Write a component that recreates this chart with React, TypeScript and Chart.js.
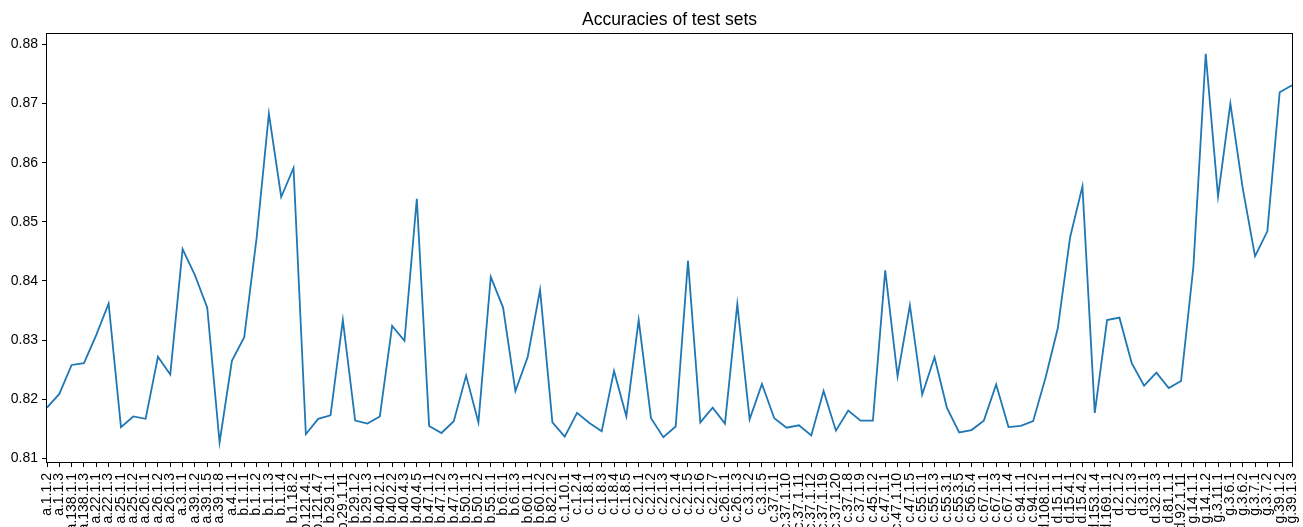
import React, { useEffect, useRef } from "react";
import { Chart, registerables } from "chart.js";

Chart.register(...registerables);

const testSets = [
  "a.1.1.2", "a.1.1.3", "a.138.1.1", "a.138.1.3", "a.22.1.1", "a.22.1.3", "a.25.1.1", "a.25.1.2",
  "a.26.1.1", "a.26.1.2", "a.26.1.3", "a.3.1.1", "a.39.1.2", "a.39.1.5", "a.39.1.8", "a.4.1.1",
  "b.1.1.1", "b.1.1.2", "b.1.1.3", "b.1.1.4", "b.1.18.2", "b.121.4.1", "b.121.4.7", "b.29.1.1",
  "b.29.1.11", "b.29.1.2", "b.29.1.3", "b.40.2.1", "b.40.2.2", "b.40.4.3", "b.40.4.5", "b.47.1.1",
  "b.47.1.2", "b.47.1.3", "b.50.1.1", "b.50.1.2", "b.55.1.1", "b.6.1.1", "b.6.1.3", "b.60.1.1",
  "b.60.1.2", "b.82.1.2", "c.1.10.1", "c.1.2.4", "c.1.8.1", "c.1.8.3", "c.1.8.4", "c.1.8.5",
  "c.2.1.1", "c.2.1.2", "c.2.1.3", "c.2.1.4", "c.2.1.5", "c.2.1.6", "c.2.1.7", "c.26.1.1",
  "c.26.1.3", "c.3.1.2", "c.3.1.5", "c.37.1.1", "c.37.1.10", "c.37.1.11", "c.37.1.12", "c.37.1.19",
  "c.37.1.20", "c.37.1.8", "c.37.1.9", "c.45.1.2", "c.47.1.1", "c.47.1.10", "c.47.1.5", "c.55.1.1",
  "c.55.1.3", "c.55.3.1", "c.55.3.5", "c.56.5.4", "c.67.1.1", "c.67.1.3", "c.67.1.4", "c.94.1.1",
  "c.94.1.2", "d.108.1.1", "d.15.1.1", "d.15.4.1", "d.15.4.2", "d.153.1.4", "d.169.1.1", "d.2.1.2",
  "d.2.1.3", "d.3.1.1", "d.32.1.3", "d.81.1.1", "d.92.1.11", "g.14.1.1", "g.14.1.2", "g.3.11.1",
  "g.3.6.1", "g.3.6.2", "g.3.7.1", "g.3.7.2", "g.39.1.2", "g.39.1.3",
];

const accuracies = [
  0.8186, 0.8209, 0.8258, 0.8261, 0.8309, 0.8362, 0.8153, 0.8171,
  0.8167, 0.8272, 0.8242, 0.8454, 0.841, 0.8355, 0.8127, 0.8265,
  0.8305, 0.8472, 0.8683, 0.8542, 0.8591, 0.8141, 0.8167, 0.8173,
  0.8334, 0.8164, 0.8159, 0.8171, 0.8324, 0.8299, 0.8539, 0.8155,
  0.8143, 0.8163, 0.824, 0.8161, 0.8407, 0.8355, 0.8214, 0.8272,
  0.8385, 0.8161, 0.8137, 0.8177, 0.816, 0.8146, 0.8248, 0.8171,
  0.8334, 0.8168, 0.8136, 0.8154, 0.8434, 0.8161, 0.8186, 0.8159,
  0.8361, 0.8166, 0.8226, 0.8168, 0.8152, 0.8156, 0.8139, 0.8214,
  0.8147, 0.8181, 0.8164, 0.8164, 0.8418, 0.8239, 0.8359, 0.8208,
  0.8271, 0.8186, 0.8144, 0.8148, 0.8164, 0.8225, 0.8153, 0.8155,
  0.8163, 0.8236, 0.832, 0.8474, 0.856, 0.8177, 0.8334, 0.8338,
  0.8261, 0.8223, 0.8245, 0.8219, 0.8231, 0.8424, 0.8784, 0.8543,
  0.87, 0.8557, 0.8442, 0.8484, 0.8719, 0.8731,
];

const yTicks = [0.81, 0.82, 0.83, 0.84, 0.85, 0.86, 0.87, 0.88];
const yMin = 0.8094;
const yMax = 0.8817;

const FONT = "'Liberation Sans', Arial, sans-serif";

export default function App() {
  const ref = useRef<HTMLCanvasElement>(null);

  useEffect(() => {
    document.body.style.margin = "0";
    const frame = {
      id: "frame",
      afterDraw(chart: any) {
        const { ctx, chartArea: a } = chart;
        ctx.save();
        ctx.strokeStyle = "#000";
        ctx.lineWidth = 1;
        const l = Math.round(a.left) - 0.5;
        const t = Math.round(a.top) - 0.5;
        const r = Math.round(a.right) + 0.5;
        const b = Math.round(a.bottom) + 0.5;
        ctx.strokeRect(l, t, r - l, b - t);
        ctx.restore();
      },
    };
    const chart = new Chart(ref.current as HTMLCanvasElement, {
      type: "line",
      data: {
        labels: testSets,
        datasets: [
          {
            data: accuracies,
            borderColor: "#1f77b4",
            backgroundColor: "#1f77b4",
            borderWidth: 1.8,
            pointRadius: 0,
            tension: 0,
            fill: false,
          },
        ],
      },
      options: {
        responsive: false,
        animation: false,
        devicePixelRatio: 1,
        layout: { padding: { left: 0, right: 11, top: 0, bottom: 0 } },
        plugins: {
          legend: { display: false },
          tooltip: { enabled: false },
          title: {
            display: true,
            fullSize: false,
            text: "Accuracies of test sets",
            color: "#000",
            font: { family: FONT, size: 17.5, weight: "normal" },
            padding: { top: 9.5, bottom: 3.8 },
          },
        },
        scales: {
          x: {
            type: "category",
            offset: false,
            afterFit(s: any) {
              s.height = 65;
              s.paddingLeft = 0;
              s.paddingRight = 0;
            },
            ticks: {
              autoSkip: false,
              maxRotation: 90,
              minRotation: 90,
              color: "#000",
              font: { family: FONT, size: 14 },
              padding: 6,
            },
            grid: { drawOnChartArea: false, drawTicks: true, tickLength: 5, color: "#000" },
            border: { display: false },
          },
          y: {
            min: yMin,
            max: yMax,
            afterFit(s: any) {
              s.width = 47;
              s.paddingTop = 0;
              s.paddingBottom = 0;
            },
            afterBuildTicks(s: any) {
              s.ticks = yTicks.map((v) => ({ value: v }));
            },
            ticks: {
              color: "#000",
              font: { family: FONT, size: 14 },
              padding: 4,
              callback: (v: any) => Number(v).toFixed(2),
            },
            grid: { drawOnChartArea: false, drawTicks: true, tickLength: 5, color: "#000" },
            border: { display: false },
          },
        },
      },
      plugins: [frame],
    } as any);
    return () => chart.destroy();
  }, []);

  return (
    <div style={{ width: 1303, height: 527, overflow: "hidden" }}>
      <canvas ref={ref} width={1303} height={527} style={{ display: "block" }} />
    </div>
  );
}
